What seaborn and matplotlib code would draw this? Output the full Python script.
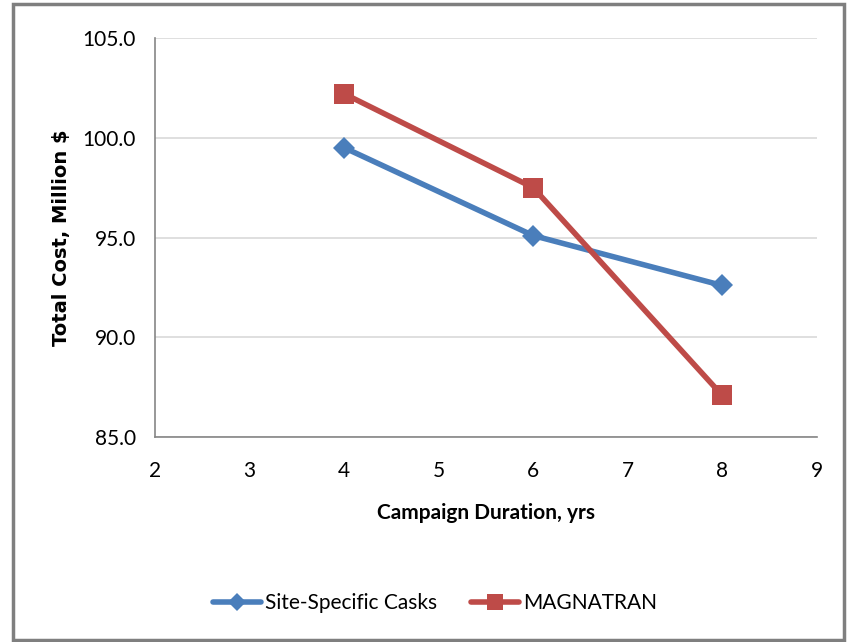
import pandas as pd
import matplotlib.pyplot as plt
import seaborn as sns
from matplotlib.patches import Rectangle

# Data
years = [4, 6, 8]
site_specific = [99.5, 95.1, 92.6]
magnatran = [102.2, 97.5, 87.1]
series_names = ['Site-Specific Casks', 'MAGNATRAN']
y_ticks = [85, 90, 95, 100, 105]

df = pd.DataFrame({
    'Duration': years * 2,
    'Cost': site_specific + magnatran,
    'Series': [series_names[0]] * 3 + [series_names[1]] * 3,
})

sns.set_theme(style="white")
plt.rcParams['font.family'] = ['Lato', 'DejaVu Sans']
plt.rcParams['text.color'] = 'black'
plt.rcParams['axes.labelcolor'] = 'black'

fig = plt.figure(figsize=(8.48, 6.42), dpi=100)
ax = fig.add_axes([0.183, 0.319, 0.780, 0.622])

palette = {series_names[0]: '#4A7EBB', series_names[1]: '#BE4B48'}
markers = {series_names[0]: 'D', series_names[1]: 's'}
sizes_map = {series_names[0]: 11, series_names[1]: 14}

sns.lineplot(data=df, x='Duration', y='Cost', hue='Series', style='Series',
             palette=palette, markers=markers, dashes=False, linewidth=4,
             markeredgewidth=0, ax=ax, legend=False)
for line, name in zip(ax.get_lines(), series_names):
    line.set_markersize(sizes_map[name])

ax.set_xlim(2, 9)
ax.set_ylim(85, 105)
ax.set_xticks(range(2, 10))
ax.set_yticks(y_ticks)
ax.set_yticklabels([f'{v:.1f}' for v in y_ticks])
ax.yaxis.grid(True, color='#D9D9D9', linewidth=1.2)
ax.xaxis.grid(False)
for side in ['top', 'right']:
    ax.spines[side].set_visible(False)
for side in ['left', 'bottom']:
    ax.spines[side].set_color('#868686')
    ax.spines[side].set_linewidth(1.2)
ax.tick_params(axis='both', which='both', direction='out', length=4, width=1.2,
               color='#868686', labelsize=15, labelcolor='black')
ax.tick_params(axis='y', pad=10)
ax.tick_params(axis='x', pad=13)

ax.set_xlabel('Campaign Duration, yrs', fontsize=15, fontweight='bold', labelpad=16)
ax.set_ylabel('Total Cost, Million $', fontsize=14, fontweight='bold', labelpad=8,
              family=['DejaVu Sans'])

# legend
handles = [plt.Line2D([], [], color=palette[n], marker=markers[n], linewidth=4,
                      markersize=sizes_map[n] * 0.85, markeredgewidth=0) for n in series_names]
fig.legend(handles, series_names, loc='center', bbox_to_anchor=(0.513, 0.061),
           ncol=2, frameon=False, fontsize=15, handlelength=2.3, columnspacing=1.6,
           handletextpad=0.2)

# outer frame
fig.patches.append(Rectangle((0.015, 0.003), 0.98, 0.99, transform=fig.transFigure,
                             fill=False, edgecolor='#7F7F7F', linewidth=2.5))

fig.savefig('out.png', dpi=100)
